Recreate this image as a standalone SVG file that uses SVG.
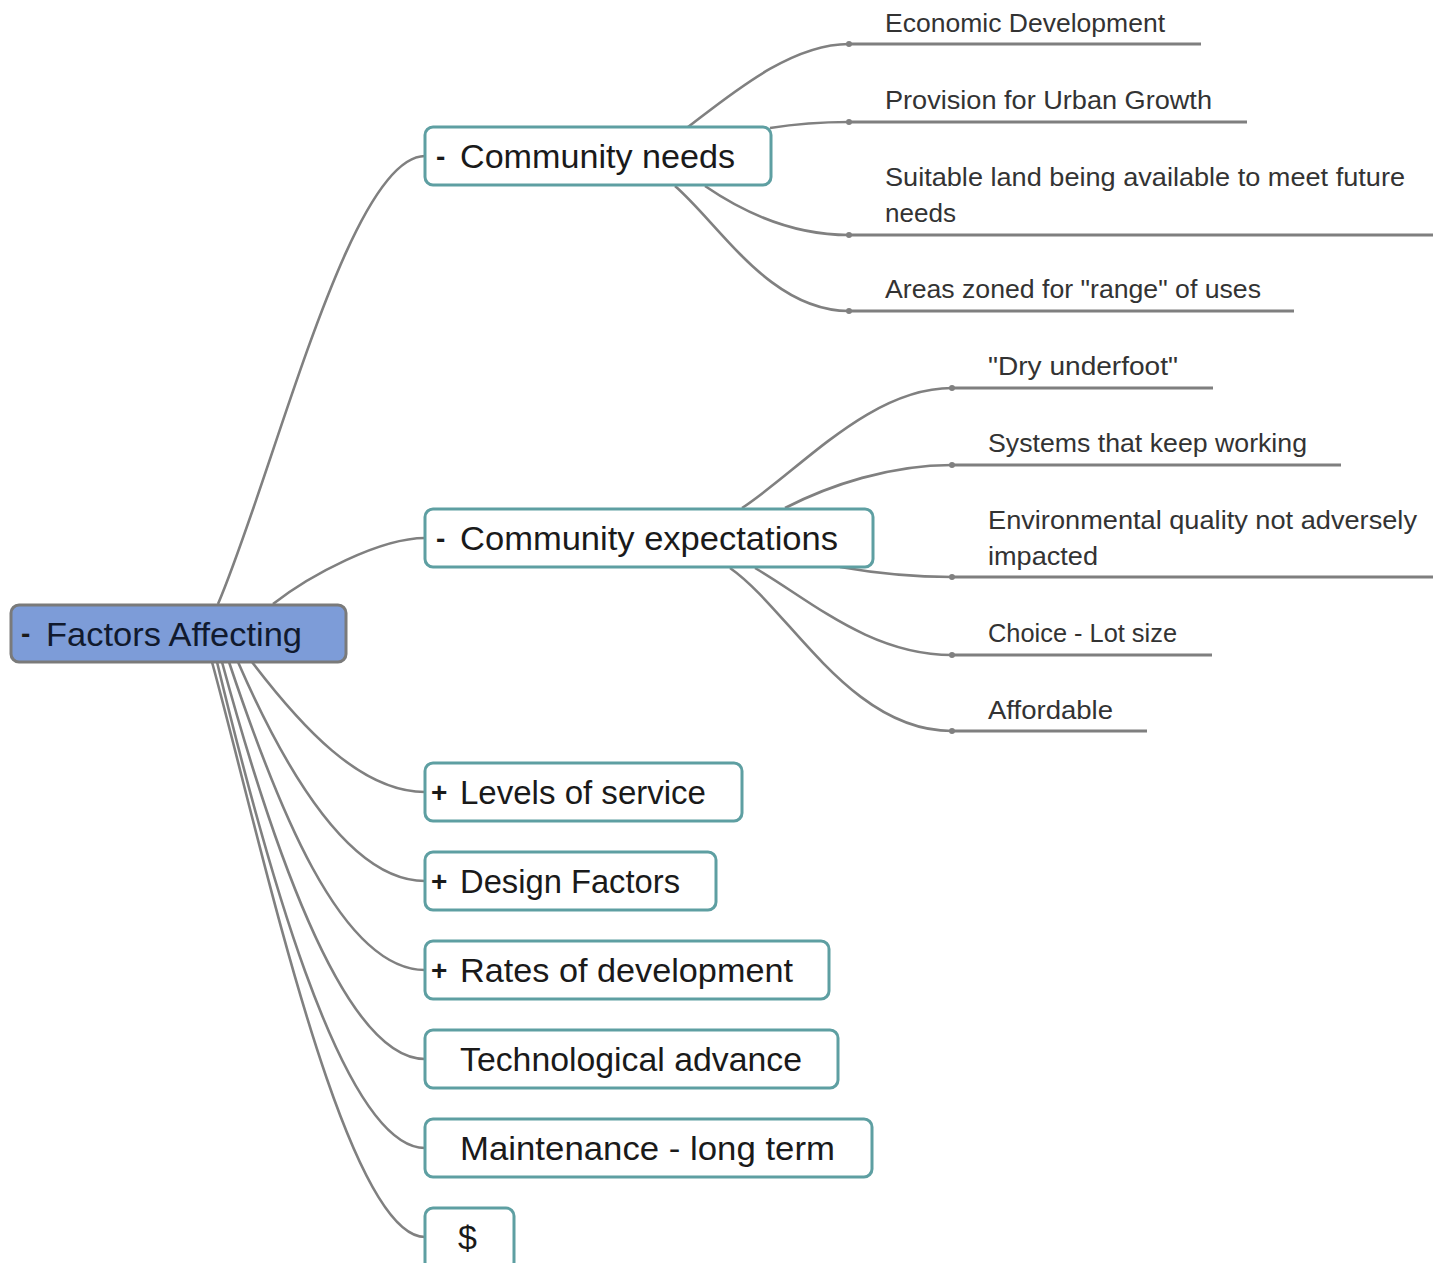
<svg xmlns="http://www.w3.org/2000/svg" width="1433" height="1263" viewBox="0 0 1433 1263">
<style>
.conn{fill:none;stroke:#808080;stroke-width:2.6}
.under{fill:none;stroke:#7f7f7f;stroke-width:3.2}
.dot{fill:#808080}
.node{fill:#ffffff;stroke:#5e9fa2;stroke-width:3}
.root{fill:#7d9cd8;stroke:#7a7a7a;stroke-width:3}
.nt{font-family:"Liberation Sans",Arial,sans-serif;font-size:34px;fill:#1a1a1a}
.rt{font-family:"Liberation Sans",Arial,sans-serif;font-size:34px;fill:#111a2e}
.pm{font-family:"Liberation Sans",Arial,sans-serif;font-size:28px;font-weight:bold;fill:#1a1a1a}
.lt{font-family:"Liberation Sans",Arial,sans-serif;font-size:25px;fill:#333333}
</style>
<rect width="1433" height="1263" fill="#ffffff"/>
<g id="connectors">
  <path class="conn" d="M218 604 C 275 470, 350 156, 425 156"/>
  <path class="conn" d="M273 604 C 310 575, 380 538, 425 538"/>
  <path class="conn" d="M252 662 C 300 725, 360 792, 425 792"/>
  <path class="conn" d="M238 662 C 285 770, 350 881, 425 881"/>
  <path class="conn" d="M229 662 C 275 800, 340 970, 425 970"/>
  <path class="conn" d="M222 662 C 265 820, 340 1059, 425 1059"/>
  <path class="conn" d="M217 662 C 260 840, 340 1148, 425 1148"/>
  <path class="conn" d="M212 662 C 262 845, 345 1237, 425 1237"/>
  <path class="conn" d="M688 127 C 730 95, 790 44, 849 44"/>
  <path class="conn" d="M770 128 C 795 124, 815 122, 849 122"/>
  <path class="conn" d="M705 186 C 740 210, 790 235, 849 235"/>
  <path class="conn" d="M675 186 C 720 225, 770 311, 849 311"/>
  <path class="conn" d="M742 508 C 800 470, 870 388, 952 388"/>
  <path class="conn" d="M785 508 C 830 485, 890 465, 952 465"/>
  <path class="conn" d="M840 567 C 880 574, 910 577, 952 577"/>
  <path class="conn" d="M755 568 C 810 600, 870 655, 952 655"/>
  <path class="conn" d="M730 568 C 790 610, 850 731, 952 731"/>
  <path class="under" d="M849 44 H1201 M849 122 H1247 M849 235 H1433 M849 311 H1294 M952 388 H1213 M952 465 H1341 M952 577 H1433 M952 655 H1212 M952 731 H1147"/>
  <circle class="dot" cx="849" cy="44" r="3"/>
  <circle class="dot" cx="849" cy="122" r="3"/>
  <circle class="dot" cx="849" cy="235" r="3"/>
  <circle class="dot" cx="849" cy="311" r="3"/>
  <circle class="dot" cx="952" cy="388" r="3"/>
  <circle class="dot" cx="952" cy="465" r="3"/>
  <circle class="dot" cx="952" cy="577" r="3"/>
  <circle class="dot" cx="952" cy="655" r="3"/>
  <circle class="dot" cx="952" cy="731" r="3"/>
</g>
<g id="root">
  <rect class="root" x="11" y="605" width="335" height="57" rx="8"/>
  <text class="pm" x="21" y="643">-</text>
  <text class="rt" x="46" y="646" textLength="256" lengthAdjust="spacingAndGlyphs">Factors Affecting</text>
</g>
<g id="community-needs">
  <rect class="node" x="425" y="127" width="346" height="58" rx="8"/>
  <text class="pm" x="436" y="166">-</text>
  <text class="nt" x="460" y="168" textLength="275" lengthAdjust="spacingAndGlyphs">Community needs</text>
</g>
<g id="community-expectations">
  <rect class="node" x="425" y="509" width="448" height="58" rx="8"/>
  <text class="pm" x="436" y="548">-</text>
  <text class="nt" x="460" y="550" textLength="378" lengthAdjust="spacingAndGlyphs">Community expectations</text>
</g>
<g id="levels-of-service">
  <rect class="node" x="425" y="763" width="317" height="58" rx="8"/>
  <text class="pm" x="431" y="802">+</text>
  <text class="nt" x="460" y="804" textLength="246" lengthAdjust="spacingAndGlyphs">Levels of service</text>
</g>
<g id="design-factors">
  <rect class="node" x="425" y="852" width="291" height="58" rx="8"/>
  <text class="pm" x="431" y="891">+</text>
  <text class="nt" x="460" y="893" textLength="220" lengthAdjust="spacingAndGlyphs">Design Factors</text>
</g>
<g id="rates-of-development">
  <rect class="node" x="425" y="941" width="404" height="58" rx="8"/>
  <text class="pm" x="431" y="980">+</text>
  <text class="nt" x="460" y="982" textLength="333" lengthAdjust="spacingAndGlyphs">Rates of development</text>
</g>
<g id="technological-advance">
  <rect class="node" x="425" y="1030" width="413" height="58" rx="8"/>
  <text class="nt" x="460" y="1071" textLength="342" lengthAdjust="spacingAndGlyphs">Technological advance</text>
</g>
<g id="maintenance">
  <rect class="node" x="425" y="1119" width="447" height="58" rx="8"/>
  <text class="nt" x="460" y="1160" textLength="375" lengthAdjust="spacingAndGlyphs">Maintenance - long term</text>
</g>
<g id="dollar">
  <rect class="node" x="425" y="1208" width="89" height="62" rx="8"/>
  <text class="nt" x="458" y="1249">$</text>
</g>
<g id="leaves">
  <text class="lt" x="885" y="32" textLength="280" lengthAdjust="spacingAndGlyphs">Economic Development</text>
  <text class="lt" x="885" y="109" textLength="327" lengthAdjust="spacingAndGlyphs">Provision for Urban Growth</text>
  <text class="lt" x="885" y="186" textLength="520" lengthAdjust="spacingAndGlyphs">Suitable land being available to meet future</text>
  <text class="lt" x="885" y="222" textLength="71" lengthAdjust="spacingAndGlyphs">needs</text>
  <text class="lt" x="885" y="298" textLength="376" lengthAdjust="spacingAndGlyphs">Areas zoned for "range" of uses</text>
  <text class="lt" x="988" y="375" textLength="190" lengthAdjust="spacingAndGlyphs">"Dry underfoot"</text>
  <text class="lt" x="988" y="452" textLength="319" lengthAdjust="spacingAndGlyphs">Systems that keep working</text>
  <text class="lt" x="988" y="529" textLength="429" lengthAdjust="spacingAndGlyphs">Environmental quality not adversely</text>
  <text class="lt" x="988" y="565" textLength="110" lengthAdjust="spacingAndGlyphs">impacted</text>
  <text class="lt" x="988" y="642" textLength="189" lengthAdjust="spacingAndGlyphs">Choice - Lot size</text>
  <text class="lt" x="988" y="719" textLength="125" lengthAdjust="spacingAndGlyphs">Affordable</text>
</g>
</svg>
